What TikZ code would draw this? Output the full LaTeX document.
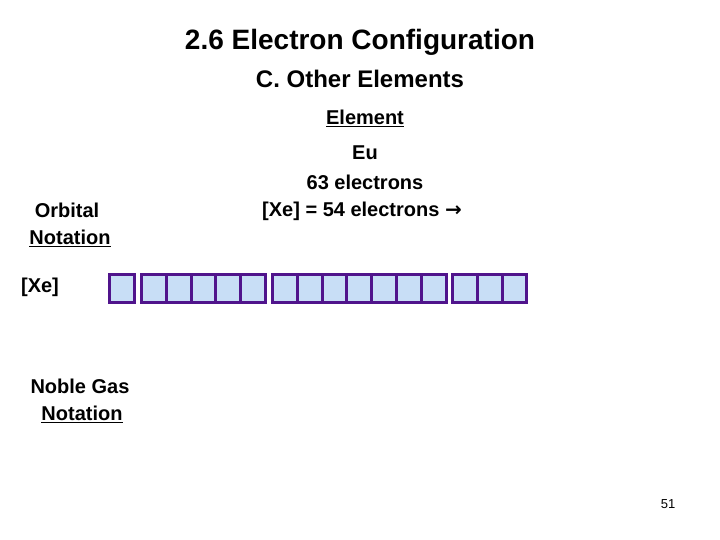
\documentclass[tikz,border=0pt]{standalone}
\usepackage{fontspec}
\setmainfont{Liberation Sans}
\newfontfamily\djv{DejaVu Sans}
\definecolor{boxfill}{RGB}{200,222,246}
\definecolor{boxline}{RGB}{80,20,140}
\begin{document}
\begin{tikzpicture}[x=1pt,y=-1pt,
  txt/.style={font=\fontsize{20}{24}\selectfont\bfseries,inner sep=0pt},
  orb/.style={draw=boxline,fill=boxfill,line width=3pt,minimum width=24.8pt,minimum height=28pt,inner sep=0pt,anchor=north west}]
\useasboundingbox (0,0) rectangle (720,540);
\node[inner sep=0pt,font=\fontsize{28}{32}\selectfont\bfseries] (title) at (360,42) {2.6 Electron Configuration};
\node[inner sep=0pt,font=\fontsize{24}{28}\selectfont\bfseries] (sub) at (360,79) {C. Other Elements};
\node[txt] (el) at (365,118) {\underline{Element}};
\node[txt] (eu) at (365,153) {Eu};
\node[txt] (n63) at (365,182) {63 electrons};
\node[txt] (xe54) at (362,211) {[Xe] = 54 electrons {\djv\bfseries →}};
\node[txt] (orb1) at (67,210) {Orbital};
\node[txt] (orb2) at (70,238) {\underline{Notation}};
\node[txt] (xe) at (40,287) {[Xe]};
\node[txt] (ng1) at (80,386) {Noble Gas};
\node[txt] (ng2) at (82,414) {\underline{Notation}};
\node[inner sep=0pt,font=\fontsize{13}{15}\selectfont] (pg) at (668,504) {51};
\node[orb] (s) at (108,273) {};
\foreach \i in {0,...,4} \node[orb] (p\i) at (140+24.8*\i,273) {};
\foreach \i in {0,...,6} \node[orb] (f\i) at (271+24.8*\i,273) {};
\foreach \i in {0,...,2} \node[orb] (d\i) at (451+24.8*\i,273) {};
\end{tikzpicture}
\end{document}
